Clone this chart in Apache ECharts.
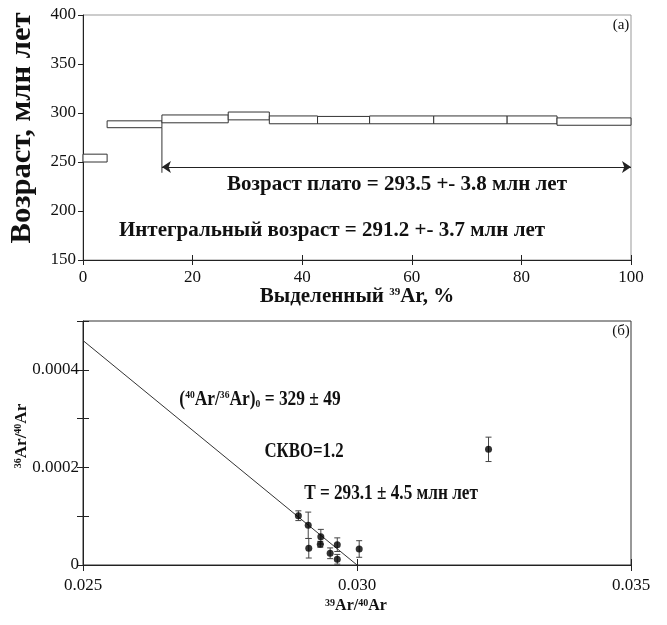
<!DOCTYPE html>
<html><head><meta charset="utf-8">
<script src="https://cdn.jsdelivr.net/npm/echarts@6/dist/echarts.min.js"></script>
<style>html,body{margin:0;padding:0;background:#fff}#c{width:667px;height:625px}</style>
</head><body><div id="c"></div>
<script>
// ---- (a) age spectrum ----
const stepBounds = [0, 4.4, 14.4, 26.5, 34.0, 42.8, 52.3, 64.0, 77.4, 86.5, 100];
const stepAgeLow = [250, 285, 290, 293, 289, 289, 289, 289, 289, 287.5];
const stepAgeHigh = [258, 292, 298, 301, 297, 296.5, 297, 297, 297, 295];
const plateauStart = 14.4;
const plateauEnd = 100;
const plateauArrowAge = 245;
const plateauMarkerTop = 285;
const plateauMarkerBottom = 239;

// ---- (б) isochron ----
const ratioX = [0.02893, 0.02911, 0.02912, 0.02934, 0.02933, 0.02951, 0.02964, 0.02964, 0.03004, 0.03240];
const ratioY = [0.000101, 0.0000814, 0.0000343, 0.000058, 0.0000425, 0.000024, 0.0000416, 0.0000117, 0.0000328, 0.000237];
const ratioYErr = [0.00001, 0.000027, 0.00002, 0.000015, 0.000006, 0.000011, 0.000014, 0.00001, 0.000017, 0.000025];
const isoLineX = [0.025, 0.030];
const isoLineY = [0.00046, 0];

const FONT = '"Liberation Serif", "Times New Roman", serif';
const chart = echarts.init(document.getElementById('c'), null, {renderer: 'canvas'});

const G0 = {left: 83, top: 15, width: 548, height: 245};
const G1 = {left: 83, top: 321, width: 548, height: 244};

const lbl = {fontFamily: FONT, fontSize: 17, color: '#111'};
const axLine = {show: true, lineStyle: {color: '#222', width: 1}};

function tickAxis(extra) {
  return Object.assign({
    type: 'value', axisLine: {show: false}, axisLabel: {show: false},
    splitLine: {show: false}, axisTick: {show: true, length: 5, lineStyle: {color: '#222'}}
  }, extra);
}

function supStyle(fs) { return {fontFamily: FONT, fontWeight: 'bold', fontSize: fs, verticalAlign: 'top', lineHeight: fs}; }
function subStyle(fs) { return {fontFamily: FONT, fontWeight: 'bold', fontSize: fs, verticalAlign: 'bottom', lineHeight: fs}; }

function txt(x, y, text, size, extra, weight) {
  const el = {
    type: 'text', x: x, y: y, silent: true,
    style: {text: text, fontFamily: FONT, fontWeight: weight || 'bold', fontSize: size, fill: '#111',
            align: 'center', verticalAlign: 'middle'}
  };
  if (extra) {
    if (extra.style) Object.assign(el.style, extra.style);
    for (const k in extra) if (k !== 'style') el[k] = extra[k];
  }
  return el;
}

const option = {
  animation: false,
  backgroundColor: '#fff',
  grid: [
    Object.assign({show: true, borderColor: '#999', borderWidth: 1, backgroundColor: 'transparent'}, G0),
    Object.assign({show: true, borderColor: '#333', borderWidth: 1, backgroundColor: 'transparent'}, G1)
  ],
  xAxis: [
    {type: 'value', gridIndex: 0, min: 0, max: 100, interval: 20, axisLine: axLine,
     axisTick: {show: true, length: 5, lineStyle: {color: '#222'}},
     axisLabel: Object.assign({margin: 9}, lbl), splitLine: {show: false}},
    tickAxis({gridIndex: 0, position: 'top', offset: -G0.height, min: 0, max: 100, interval: 20}),
    {type: 'value', gridIndex: 1, min: 0.025, max: 0.035, interval: 0.005, axisLine: axLine,
     axisTick: {show: true, length: 6, lineStyle: {color: '#222'}},
     axisLabel: Object.assign({margin: 12, formatter: v => v.toFixed(3)}, lbl), splitLine: {show: false}},
    tickAxis({gridIndex: 1, position: 'top', offset: -G1.height, min: 0.025, max: 0.035, interval: 0.005,
     axisTick: {show: true, length: 6, lineStyle: {color: '#222'}}})
  ],
  yAxis: [
    {type: 'value', gridIndex: 0, min: 150, max: 400, interval: 50, axisLine: axLine,
     axisTick: {show: true, length: 5, lineStyle: {color: '#222'}},
     axisLabel: Object.assign({margin: 7}, lbl), splitLine: {show: false}},
    {type: 'value', gridIndex: 1, min: 0, max: 0.0005, interval: 0.0001, axisLine: axLine,
     axisTick: {show: true, length: 6, lineStyle: {color: '#222'}},
     axisLabel: Object.assign({margin: 4, formatter: v => {
        const n = Math.round(v * 10000);
        if (n === 0) return '0';
        if (n === 2 || n === 4) return '0.000' + n;
        return '';
     }}, lbl), splitLine: {show: false}},
    tickAxis({gridIndex: 1, position: 'right', offset: -G1.width, min: 0, max: 0.0005, interval: 0.0001,
     axisTick: {show: true, length: 6, lineStyle: {color: '#222'}}})
  ],
  series: [
    {
      type: 'custom', xAxisIndex: 0, yAxisIndex: 0, silent: true,
      data: stepAgeLow.map((lo, i) => [stepBounds[i], stepBounds[i + 1], lo, stepAgeHigh[i]]),
      renderItem: function (params, api) {
        const a = api.coord([api.value(0), api.value(3)]);
        const b = api.coord([api.value(1), api.value(2)]);
        return {type: 'rect', shape: {x: a[0], y: a[1], width: b[0] - a[0], height: b[1] - a[1]},
                style: {fill: '#fff', stroke: '#333', lineWidth: 1}};
      }
    },
    {
      type: 'line', xAxisIndex: 0, yAxisIndex: 0, silent: true, symbol: 'none',
      data: [[plateauStart, plateauMarkerTop], [plateauStart, plateauMarkerBottom]],
      lineStyle: {color: '#333', width: 1},
      markLine: {
        silent: true, symbol: ['arrow', 'arrow'], symbolSize: 9, label: {show: false},
        lineStyle: {color: '#222', width: 1, type: 'solid'},
        data: [[{coord: [plateauStart, plateauArrowAge]}, {coord: [plateauEnd, plateauArrowAge]}]]
      }
    },
    {
      type: 'line', xAxisIndex: 2, yAxisIndex: 1, silent: true, symbol: 'none',
      data: isoLineX.map((x, i) => [x, isoLineY[i]]),
      lineStyle: {color: '#333', width: 1}
    },
    {
      type: 'custom', xAxisIndex: 2, yAxisIndex: 1, silent: true,
      data: ratioX.map((x, i) => [x, ratioY[i], ratioYErr[i]]),
      renderItem: function (params, api) {
        const x = api.value(0), y = api.value(1), e = api.value(2);
        const top = api.coord([x, y + e]);
        const bot = api.coord([x, y - e]);
        const c = 3;
        const st = {stroke: '#444', lineWidth: 1};
        return {type: 'group', children: [
          {type: 'line', shape: {x1: top[0], y1: top[1], x2: bot[0], y2: bot[1]}, style: st},
          {type: 'line', shape: {x1: top[0] - c, y1: top[1], x2: top[0] + c, y2: top[1]}, style: st},
          {type: 'line', shape: {x1: bot[0] - c, y1: bot[1], x2: bot[0] + c, y2: bot[1]}, style: st}
        ]};
      }
    },
    {
      type: 'scatter', xAxisIndex: 2, yAxisIndex: 1, silent: true, symbol: 'circle', symbolSize: 7,
      itemStyle: {color: '#000'}, z: 5,
      data: ratioX.map((x, i) => [x, ratioY[i]])
    }
  ],
  graphic: [
    txt(22, 128, 'Возраст, млн лет', 30, {rotation: Math.PI / 2, scaleX: 1.02}),
    txt(357, 297, 'Выделенный {s|39}Ar, %', 21, {style: {rich: {s: supStyle(11)}}}),
    txt(397, 185, 'Возраст плато = 293.5 +- 3.8 млн лет', 21),
    txt(332, 231, 'Интегральный возраст = 291.2 +- 3.7 млн лет', 21),
    txt(621, 25, '(a)', 15, null, 'normal'),
    txt(621, 331, '(б)', 15, null, 'normal'),
    txt(22, 436, '{s|36}Ar/{s|40}Ar', 17, {rotation: Math.PI / 2, style: {rich: {s: supStyle(10)}}}),
    txt(356, 606, '{s|39}Ar/{s|40}Ar', 16, {style: {rich: {s: supStyle(10)}}}),
    txt(260, 400, '({s|40}Ar/{s|36}Ar){b|0} = 329 ± 49', 20, {scaleX: 0.87, style: {rich: {s: supStyle(11), b: subStyle(11)}}}),
    txt(304, 452, 'СКВО=1.2', 20, {scaleX: 0.84}),
    txt(391, 494, 'T = 293.1 ± 4.5 млн лет', 20, {scaleX: 0.86})
  ]
};
chart.setOption(option);
</script>
</body></html>
